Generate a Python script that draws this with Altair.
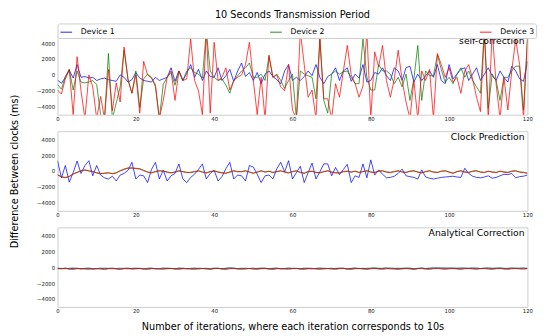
import altair as alt
import pandas as pd

DEVICES = ["Device 1", "Device 2", "Device 3"]
COLORS = ["#0000ff", "#008000", "#ff0000"]
PANEL_TITLES = ["self-correction", "Clock Prediction", "Analytical Correction"]
Y_TICKS = [-4000, -2000, 0, 2000, 4000]
X_TICKS = [0, 20, 40, 60, 80, 100, 120]

# ---- Panel 1: self-correction ----
P1_BLUE = [-650, -1050, -300, 600, -400, 1300, -300, -200, -400, -300,
           -700, -500, -400, -600, -700, -800, 0, -300, -900, -600,
           300, -400, -700, -800, -900, -300, -700, -500, -300, 900,
           -800, 500, -700, 200, 1300, -300, 700, -700, 500, -200,
           -300, 900, -700, -100, 700, -800, 500, 1500, -200, 300,
           -700, 300, -1100, 100, 500, -200, -600, -1100, 500, 1300,
           -700, -300, -700, -200, 500, -100, 1300, -300, -1100, -200,
           100, 900, -700, 500, 900, -800, 100, -400, 1300, -900,
           -700, 300, 100, 900, -100, -700, 900, 500, -700, 900,
           1100, -900, 100, -700, -100, 500, -300, 1300, -700, -1100,
           1300, -500, 100, 700, 900, -700, 100, 900, -700, 100,
           900, -100, -700, 500, -300, -900, 1100, 500, -500, -800,
           1700]
P1_GREEN = [-1200, -1800, -200, 700, -1900, 500, -900, -1000, -900, -700,
            -1200, -5000, -5500, 2700, -5500, -3500, -1500, 3100, -500, -2300,
            500, -4100, -500, 100, -300, -1500, -5500, -1200, -300, 300,
            -1300, 500, -700, 500, 900, 300, 100, -400, 5500, 500,
            -300, -700, -500, -1300, -2300, -700, -100, 500, 900, 1500,
            -300, -300, 100, -700, 2300, -300, 100, -700, -1700, -700,
            100, -5500, 500, 100, -100, -300, -3000, 4500, -3200, -4800,
            100, 500, 100, 400, 500, -300, -1100, -1100, 4500, -300,
            -1900, -1900, 1300, 500, 500, 100, -1100, -300, -1500, 100,
            -3200, -500, 3700, -3200, 500, -100, -100, 2500, 700, -900,
            -300, -1100, 100, 900, -300, 500, -700, -1500, -2300, 5500,
            -4200, 100, -700, -3200, -300, -300, 500, 1100, 1100, -4400,
            4500]
P1_RED = [-1900, -2400, -500, 700, -5000, 2300, -2000, -5500, 0, -1500,
          -5500, -2700, -5500, 700, -4500, -1000, -3400, 3500, -700, -2300,
          0, -4800, 1700, 0, -400, -1200, -5500, -3200, -300, 500,
          -3200, 500, -700, -500, 4500, -700, -2000, -5000, 5500, -4800,
          4100, -700, -300, 900, -1900, -700, -300, 0, 1300, 4100,
          -700, -5000, -300, -5500, 2500, -300, 0, -1500, -2000, 1300,
          -4400, -5500, 5500, 1300, -2800, -1900, -5500, 4500, -3000, -3000,
          -5500, -1100, -2800, 500, 3700, 0, -1100, -2800, -1400, 5500,
          -5500, 2900, 1000, 3700, -700, -2800, -500, 3100, -700, -3400,
          -5500, -700, -5500, 500, -700, 700, -5500, 2700, 1300, -300,
          900, -900, -300, -2300, 500, 1300, -500, -2800, -4600, 5500,
          -5500, 5500, -1100, -5500, -300, -4400, 500, 4500, 1300, -5500,
          4500]

# ---- Panel 2: Clock Prediction ----
P2_BLUE = [1300, -850, 700, -1400, -200, 1250, -300, 700, 1300, -600,
           700, -500, -850, -1000, -650, -1250, -500, -300, 100, 1100,
           -1000, -500, -600, -1450, 200, 1100, -1000, 100, -1250, -600,
           -300, 900, -1000, -1450, -800, -400, 200, 900, -1000, -300,
           100, -1250, -700, 300, 1100, -1000, -500, -600, -1250, 700,
           500, -400, -1450, -600, -500, -1000, 300, 1100, -100, 1300,
           -1000, -200, 600, -1450, -200, 1000, -1000, -100, 900, 900,
           -600, 450, -450, 200, 850, -1450, -600, -800, 900, -850,
           1400, -500, 150, -400, -850, -800, -650, -300, 250, -600,
           -700, -800, -1000, 150, -750, -900, -1000, -900, -800, -750,
           -700, -650, -750, -800, 350, -300, -650, -800, -850, -750,
           -600, -900, -800, -600, -400, -450, -300, -850, -700, -650,
           -500]
P2_GREEN = [-450, -700, -800, -700, -400, -200, 0, 100, 0, -100,
            -200, -300, -300, -250, -300, -200, 0, 200, 350, 400,
            350, 300, 100, -100, -200, -100, 0, 0, -100, -200,
            -150, 0, -50, -150, -200, -100, 0, -100, -200, -100,
            0, -100, -200, -300, -150, 0, -100, -50, 0, -100,
            -250, -150, 0, -100, -50, -150, -100, 0, -100, -200,
            -100, 0, -150, -250, -100, -50, -150, -200, -100, 0,
            -100, -200, -250, -100, -50, -100, -50, -150, -100, 0,
            -100, -150, -50, 0, -100, -150, -100, 0, -100, -150,
            -50, 0, -100, -200, -100, 0, -100, -150, -50, 0,
            -100, -250, -100, 0, -100, -150, -50, 0, -100, -150,
            -50, -100, -150, -50, -100, -150, -50, 0, -100, -150,
            -300]
P2_RED = [-500, -750, -850, -650, -350, -150, 50, 150, 50, -50,
          -250, -350, -250, -200, -350, -250, 50, 250, 400, 350,
          300, 250, 50, -150, -250, -50, 50, -50, -150, -250,
          -100, 50, -100, -200, -150, -50, 50, -150, -250, -50,
          50, -150, -250, -250, -100, 50, -50, -100, 50, -150,
          -300, -100, 50, -150, 0, -200, -50, 50, -150, -250,
          -50, 50, -200, -300, -50, 0, -200, -250, -50, 50,
          -150, -250, -200, -50, 0, -150, 0, -200, -50, 50,
          -150, -200, 0, 50, -150, -200, -50, 50, -150, -200,
          0, 50, -150, -250, -50, 50, -150, -200, 0, 50,
          -150, -300, -50, 50, -150, -200, 0, 50, -150, -200,
          0, -150, -200, 0, -150, -200, 0, 50, -150, -200,
          -250]

# ---- Panel 3: Analytical Correction ----
P3_BLUE = [-150, -180, -120, -200, -160, -130, -220, -170, -140, -250,
           -180, -130, -200, -160, -120, -190, -230, -150, -120, -200,
           -170, -140, -210, -160, -130, -240, -180, -120, -190, -150,
           -200, -130, -170, -220, -150, -120, -200, -170, -140, -230,
           -160, -130, -200, -150, -100, -120, -180, -140, -210, -160,
           -130, -190, -150, -120, -200, -170, -140, -230, -160, -120,
           -180, -150, -200, -130, -170, -220, -150, -120, -200, -170,
           -140, -190, -160, -130, -210, -150, -120, -180, -140, -200,
           -160, -130, -190, -150, -120, -210, -170, -140, -200, -160,
           -130, -240, -180, -120, -190, -150, -110, -90, -120, -150,
           -130, -100, -160, -140, -120, -170, -150, -130, -180, -140,
           -120, -160, -150, -130, -190, -150, -120, -170, -140, -130,
           -160]
P3_GREEN = [-120, -160, -200, -140, -110, -180, -210, -150, -130, -170,
            -220, -160, -120, -150, -200, -170, -130, -160, -210, -140,
            -120, -180, -200, -150, -130, -170, -220, -150, -110, -160,
            -190, -140, -120, -180, -210, -160, -130, -150, -200, -170,
            -120, -160, -190, -140, -110, -150, -200, -160, -130, -170,
            -210, -150, -120, -160, -190, -140, -120, -180, -200, -150,
            -130, -160, -210, -170, -120, -150, -190, -140, -130, -170,
            -200, -150, -120, -160, -210, -170, -130, -150, -190, -140,
            -120, -100, -130, -160, -120, -100, -140, -170, -130, -110,
            -150, -180, -140, -120, -160, -130, -110, -150, -120, -100,
            -140, -170, -130, -110, -150, -120, -100, -140, -160, -130,
            -110, -150, -120, -100, -140, -170, -130, -110, -150, -120,
            -140]
P3_RED = [-180, -220, -150, -260, -300, -190, -160, -240, -280, -200,
          -170, -250, -300, -210, -160, -230, -290, -200, -170, -250,
          -220, -170, -240, -300, -200, -160, -230, -280, -190, -170,
          -250, -290, -200, -160, -240, -300, -210, -170, -230, -280,
          -190, -160, -250, -300, -200, -170, -230, -290, -210, -160,
          -240, -280, -200, -170, -250, -300, -210, -160, -230, -280,
          -190, -170, -250, -290, -200, -160, -240, -300, -210, -170,
          -230, -280, -190, -160, -250, -300, -200, -170, -240, -290,
          -210, -160, -230, -280, -200, -170, -250, -300, -210, -160,
          -240, -280, -190, -170, -250, -290, -200, -160, -230, -280,
          -210, -170, -240, -300, -200, -160, -230, -280, -190, -170,
          -250, -290, -200, -160, -240, -280, -210, -170, -230, -260,
          -200]

PANELS = [
    [P1_BLUE, P1_GREEN, P1_RED],
    [P2_BLUE, P2_GREEN, P2_RED],
    [P3_BLUE, P3_GREEN, P3_RED],
]

FONT = "DejaVu Sans"
W, H = 484, 82


def make_df(series_lists):
    rows = []
    for order, (dev, vals) in enumerate(zip(DEVICES, series_lists)):
        for i, v in enumerate(vals):
            rows.append({"iteration": i, "value": v, "device": dev, "order": order})
    return pd.DataFrame(rows)


def panel(idx):
    df = make_df(PANELS[idx])
    if idx == 0:
        legend = alt.Legend(
            orient="none", legendX=0, legendY=-12, direction="horizontal",
            title=None, symbolType="stroke", symbolSize=144, symbolStrokeWidth=1.2,
            symbolOpacity=0.75, labelFontSize=8, labelFont=FONT, labelColor="black",
            labelOffset=8, columnPadding=157, padding=2,
            fillColor="white", strokeColor="#cccccc", cornerRadius=2,
        )
    else:
        legend = None
    color = alt.Color(
        "device:N",
        scale=alt.Scale(domain=DEVICES, range=COLORS),
        legend=legend,
    )
    x_axis_kwargs = dict(
        values=X_TICKS, grid=False, ticks=False, domain=False,
        labelFontSize=5.5, labelFont=FONT, labelPadding=2, labelFlush=False,
        labelColor="#222222",
    )
    if idx == 2:
        x_axis = alt.Axis(
            title="Number of iterations, where each iteration corresponds to 10s",
            titleFontSize=10, titleFont=FONT, titleFontWeight="normal",
            titleColor="black", titlePadding=8, **x_axis_kwargs,
        )
    else:
        x_axis = alt.Axis(title=None, **x_axis_kwargs)
    y_axis_kwargs = dict(
        values=Y_TICKS, format="d", grid=False, ticks=False, domain=False,
        labelFontSize=5.5, labelFont=FONT, labelPadding=3, labelColor="#222222",
    )
    if idx == 1:
        y_axis = alt.Axis(
            title="Difference Between clocks (ms)", titleFontSize=10, titleFont=FONT,
            titleFontWeight="normal", titlePadding=18, titleColor="black",
            **y_axis_kwargs,
        )
    else:
        y_axis = alt.Axis(title=None, **y_axis_kwargs)
    lines = alt.Chart(df).mark_line(strokeWidth=1, opacity=0.75, clip=True).encode(
        x=alt.X("iteration:Q", scale=alt.Scale(domain=[0, 120], nice=False), axis=x_axis),
        y=alt.Y("value:Q", scale=alt.Scale(domain=[-5000, 5000], nice=False), axis=y_axis),
        color=color,
        order="order:Q",
    )
    label = alt.Chart(pd.DataFrame({"label": [PANEL_TITLES[idx]]})).mark_text(
        align="right", baseline="top", fontSize=9.5, font=FONT, color="black"
    ).encode(x=alt.value(W - 3), y=alt.value(1), text="label:N")
    layer = alt.layer(lines, label).properties(width=W, height=H)
    if idx == 0:
        layer = layer.properties(
            title=alt.TitleParams(
                "10 Seconds Transmission Period", fontSize=10, font=FONT,
                fontWeight="normal", anchor="middle", offset=3, color="black",
            )
        )
    return layer


chart = alt.vconcat(
    panel(0), panel(1), panel(2), spacing=17, bounds="flush"
).resolve_scale(
    color="independent"
).properties(
    padding={"left": 0, "top": -3, "right": 5, "bottom": 0},
    background="white",
).configure_view(stroke="#cccccc", strokeWidth=1)

chart.save("out.html", embed_options={"renderer": "svg", "actions": False})
